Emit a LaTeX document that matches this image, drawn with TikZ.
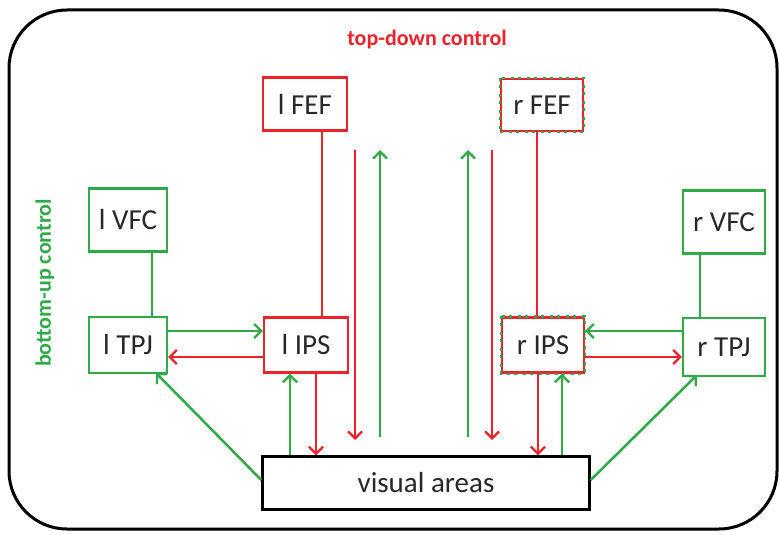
\documentclass[tikz,border=0pt]{standalone}
\usepackage{fontspec}
\setmainfont{Carlito}
\usetikzlibrary{arrows.meta}
\definecolor{myred}{RGB}{236,34,44}
\definecolor{mygreen}{RGB}{46,170,70}
\definecolor{txt}{RGB}{40,40,40}
\tikzset{
  box/.style={draw, line width=2.4pt, fill=white, font=\fontsize{29}{32}\selectfont, text=txt, minimum width=#1, inner sep=0pt},
  rbox/.style={box=84pt, draw=myred, minimum height=53pt},
  gbox/.style={box=78pt, draw=mygreen, minimum height=60pt},
  mixbox/.style={box=82pt, draw=myred, minimum height=52pt},
  rl/.style={draw=myred, line width=2.5pt},
  gl/.style={draw=mygreen, line width=2.5pt},
  ra/.style={rl, -{Straight Barb[length=7pt,width=14pt,line width=2.3pt]}},
  ga/.style={gl, -{Straight Barb[length=7pt,width=14pt,line width=2.3pt]}},
  greendash/.style={draw=mygreen, line width=2.4pt, dash pattern=on 3pt off 4pt on 3pt off 6pt}
}
\begin{document}
\begin{tikzpicture}[x=1pt,y=-1pt]
\useasboundingbox (0,0) rectangle (780,535);
\draw[line width=3pt, rounded corners=58pt] (9,10) rectangle (777,529);
\node[font=\bfseries\fontsize{22}{26}\selectfont, text=myred] (td) at (427,40) {top-down control};
\node[font=\bfseries\fontsize{22}{26}\selectfont, text=mygreen, rotate=90] (bu) at (45,283) {bottom-up control};

\node[rbox] (lfef) at (305,104) {l FEF};
\node[mixbox] (rfef) at (542,105) {r FEF};
\node[gbox, minimum height=63pt] (lvfc) at (128,220) {l VFC};
\node[gbox, minimum width=82pt, minimum height=63pt] (rvfc) at (724,222) {r VFC};
\node[gbox, minimum height=56pt] (ltpj) at (128,345) {l TPJ};
\node[rbox, minimum height=55pt] (lips) at (306,345) {l IPS};
\node[mixbox, minimum height=55pt] (rips) at (543,345) {r IPS};
\node[gbox, minimum width=82pt, minimum height=58pt] (rtpj) at (724,347) {r TPJ};
\node[box=327pt, draw=black, minimum height=53pt] (va) at (426,483) {visual areas};

\draw[greendash] (rfef.north west) rectangle (rfef.south east);
\draw[greendash] (rips.north west) rectangle (rips.south east);

% vertical links
\draw[rl] (lfef.south -| 322,0) -- (lips.north -| 322,0);
\draw[rl] (rfef.south -| 537,0) -- (rips.north -| 537,0);
\draw[gl] (lvfc.south -| 152,0) -- (ltpj.north -| 152,0);
\draw[gl] (rvfc.south -| 700,0) -- (rtpj.north -| 700,0);

% free arrows
\coordinate (a1s) at (355,150); \coordinate (a1e) at (355,440);
\coordinate (a2s) at (380,437); \coordinate (a2e) at (380,150);
\coordinate (a3s) at (468,437); \coordinate (a3e) at (468,150);
\coordinate (a4s) at (492,150); \coordinate (a4e) at (492,440);
\draw[ra] (a1s) -- (a1e);
\draw[ga] (a2s) -- (a2e);
\draw[ga] (a3s) -- (a3e);
\draw[ra] (a4s) -- (a4e);

% TPJ <-> IPS
\draw[ga] (ltpj.east |- 0,331) -- (lips.west |- 0,331);
\draw[ra] (lips.west |- 0,357) -- (ltpj.east |- 0,357);
\draw[ga] (rtpj.west |- 0,331) -- (rips.east |- 0,331);
\draw[ra] (rips.east |- 0,357) -- (rtpj.west |- 0,357);

% IPS <-> visual
\draw[ga] (va.north -| 290,0) -- (lips.south -| 290,0);
\draw[ra] (lips.south -| 316,0) -- (va.north -| 316,0);
\draw[ra] (rips.south -| 538,0) -- (va.north -| 538,0);
\draw[ga] (va.north -| 562,0) -- (rips.south -| 562,0);

% visual -> TPJ
\draw[ga] (va.west |- 0,480) -- (156,373);
\draw[ga] (va.east |- 0,480) -- (697,375);
\end{tikzpicture}
\end{document}
